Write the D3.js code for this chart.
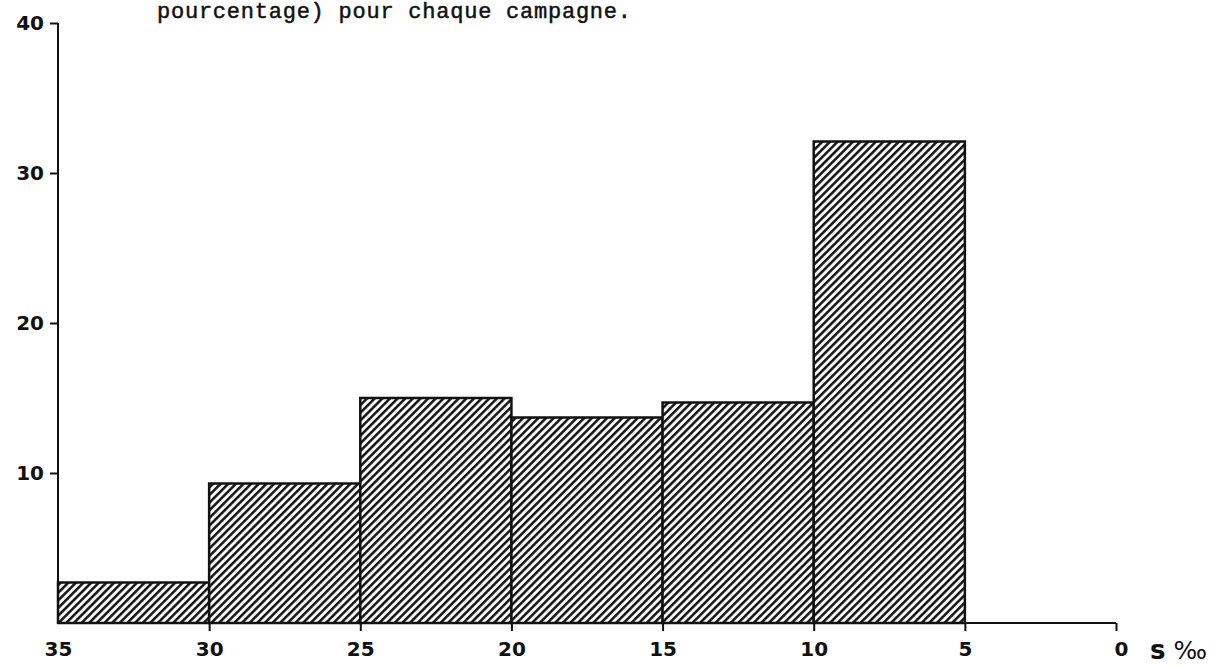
<!DOCTYPE html>
<html>
<head>
<meta charset="utf-8">
<script src="https://cdn.jsdelivr.net/npm/d3@7"></script>
<style>
  body { margin: 0; background: #fff; }
  svg { display: block; }
</style>
</head>
<body>
<div id="chart"></div>
<script>
const W = 1217, H = 668;

// classes de salinité (‰) et pourcentage par classe
const binStart = [35, 30, 25, 20, 15, 10];
const binEnd = [30, 25, 20, 15, 10, 5];
const percent = [2.7, 9.3, 15.0, 13.7, 14.7, 32.1];
const xTicks = [35, 30, 25, 20, 15, 10, 5, 0];
const yTicks = [10, 20, 30, 40];
const caption = "pourcentage) pour chaque campagne.";

const svg = d3.select("#chart").append("svg")
  .attr("width", W)
  .attr("height", H);

const x = d3.scaleLinear().domain([35, 0]).range([58, 1116]);
const y = d3.scaleLinear().domain([0, 40]).range([623, 23]);

// hachures
const pat = svg.append("defs").append("pattern")
  .attr("id", "hatch")
  .attr("patternUnits", "userSpaceOnUse")
  .attr("width", 5.4)
  .attr("height", 5.4)
  .attr("patternTransform", "rotate(45)");
pat.append("rect").attr("width", 5.4).attr("height", 5.4).attr("fill", "#fff");
pat.append("line")
  .attr("x1", 1.3).attr("y1", 0).attr("x2", 1.3).attr("y2", 5.4)
  .attr("stroke", "#111").attr("stroke-width", 2.5);

svg.append("text")
  .attr("x", 157)
  .attr("y", 18)
  .attr("textLength", 474)
  .style("font-family", "'Liberation Mono', monospace")
  .style("font-size", "22px")
  .attr("fill", "#111")
  .attr("stroke", "#111")
  .attr("stroke-width", 0.5)
  .text(caption);

const bins = binStart.map((d, i) => ({ x0: d, x1: binEnd[i], v: percent[i] }));

svg.append("g").selectAll("rect")
  .data(bins)
  .enter()
  .append("rect")
  .attr("x", d => x(d.x0))
  .attr("y", d => y(d.v))
  .attr("width", d => x(d.x1) - x(d.x0))
  .attr("height", d => y(0) - y(d.v))
  .attr("fill", "url(#hatch)")
  .attr("stroke", "#111")
  .attr("stroke-width", 2.5);

function styleLabels(sel) {
  sel.style("font-family", "'DejaVu Sans', sans-serif")
    .style("font-weight", "bold")
    .style("font-size", "20px")
    .attr("fill", "#111");
}

// axes
const yAxis = svg.append("g")
  .attr("transform", `translate(${x(35)},0)`)
  .call(d3.axisLeft(y).tickValues(yTicks).tickSize(8).tickSizeOuter(0).tickPadding(6));
yAxis.select(".domain")
  .attr("d", `M0,${y(40)}V${y(0)}`)
  .attr("stroke", "#111").attr("stroke-width", 2);
yAxis.selectAll(".tick line").attr("stroke", "#111").attr("stroke-width", 2);
yAxis.selectAll(".tick text").call(styleLabels);

const xAxis = svg.append("g")
  .attr("transform", `translate(0,${y(0)})`)
  .call(d3.axisBottom(x).tickValues(xTicks).tickSize(8).tickSizeOuter(0).tickPadding(11));
xAxis.select(".domain")
  .attr("d", `M${x(35)},0H${x(0)}`)
  .attr("stroke", "#111").attr("stroke-width", 2);
xAxis.selectAll(".tick line")
  .attr("stroke", "#111").attr("stroke-width", 2)
  .attr("display", d => d === 35 ? "none" : null);
xAxis.selectAll(".tick text").call(styleLabels)
  .attr("dx", d => d === 0 ? 5 : 0);

// unité
const unit = svg.append("text")
  .attr("x", 1150)
  .attr("y", 659)
  .style("font-family", "'DejaVu Sans', sans-serif")
  .attr("fill", "#111");
unit.append("tspan").style("font-size", "26px").style("font-weight", "bold").text("s");
unit.append("tspan").attr("dx", 8).style("font-size", "25px").text("‰");
</script>
</body>
</html>
